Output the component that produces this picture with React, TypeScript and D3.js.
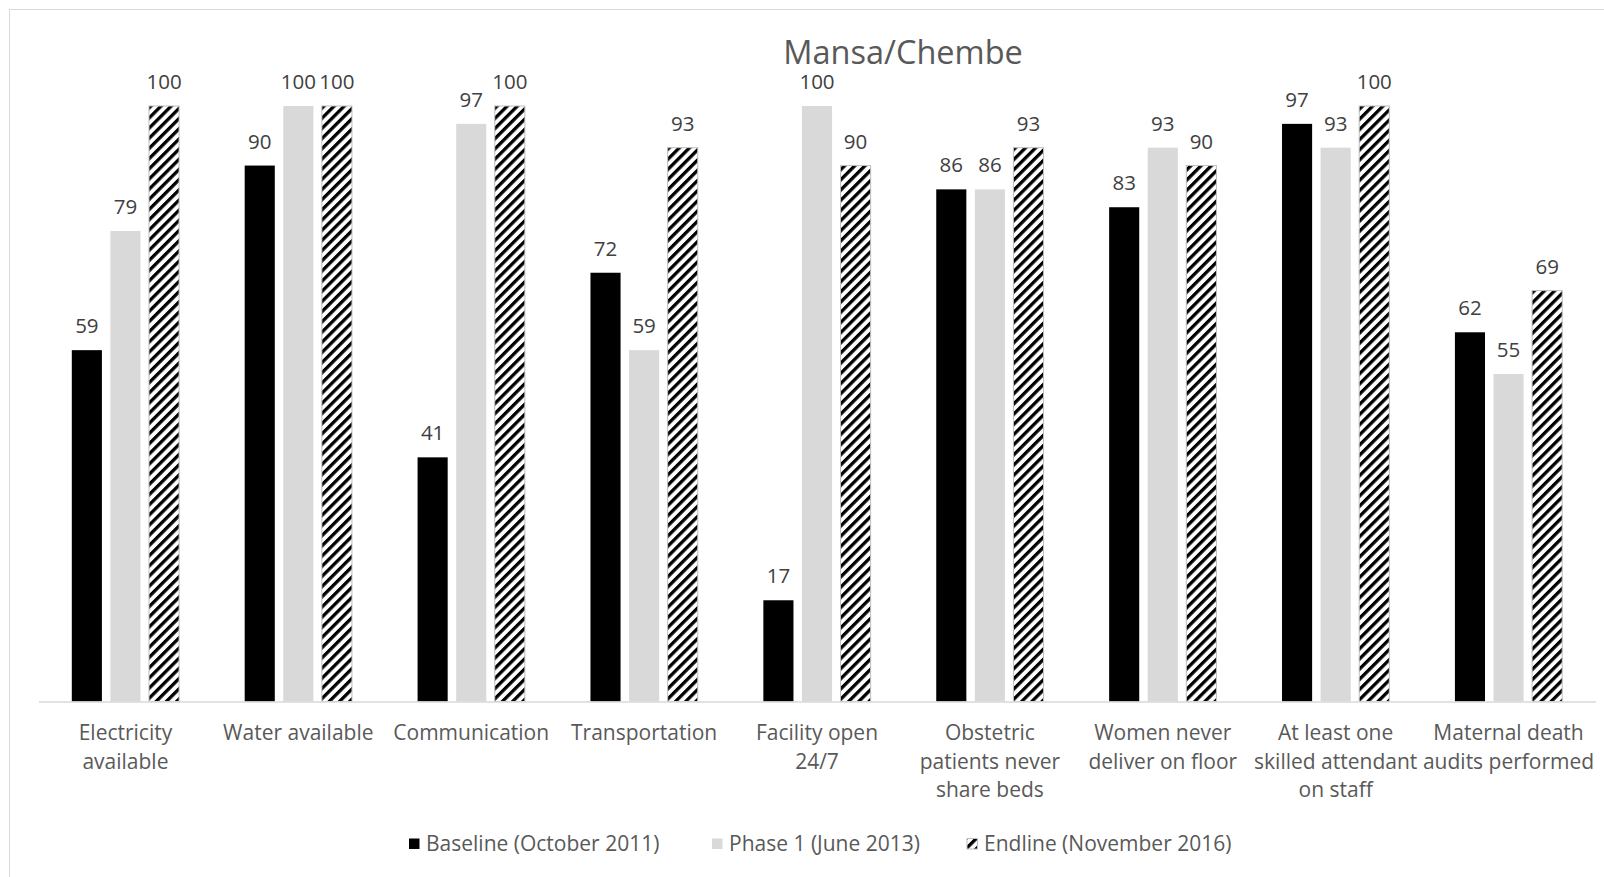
import React from 'react';
import * as d3 from 'd3';

// data (percent)
const categories = [
  'Electricity\navailable',
  'Water available',
  'Communication',
  'Transportation',
  'Facility open\n24/7',
  'Obstetric\npatients never\nshare beds',
  'Women never\ndeliver on floor',
  'At least one\nskilled attendant\non staff',
  'Maternal death\naudits performed',
];
const seriesNames = ['Baseline (October 2011)', 'Phase 1 (June 2013)', 'Endline (November 2016)'];
const baseline = [59, 90, 41, 72, 17, 86, 83, 97, 62];
const phase1 = [79, 100, 97, 59, 100, 86, 93, 93, 55];
const endline = [100, 100, 100, 93, 90, 93, 90, 100, 69];

const W = 1604;
const H = 877;
const FONT = '"Open Sans", "DejaVu Sans", sans-serif';
const fills = ['#000000', '#d9d9d9', 'url(#hatch)'];
const strokes = ['none', 'none', '#bfbfbf'];

export default function App() {
  const series = [baseline, phase1, endline];
  const x0 = d3.scaleBand<number>().domain(d3.range(categories.length)).range([39, 1595]).padding(0);
  const x1 = d3.scaleBand<number>().domain([0, 1, 2]).range([0, x0.bandwidth()])
    .paddingInner(0.22).paddingOuter(0.85);
  const y = d3.scaleLinear().domain([0, 100]).range([701.5, 106]);

  const legendX = [409, 712, 967];

  return (
    <div style={{ position: 'fixed', left: 0, top: 0 }}>
      <svg width={W} height={H} style={{ display: 'block', background: '#fff' }}>
        <defs>
          <pattern id="hatch" patternUnits="userSpaceOnUse" width={7.2} height={7.2} patternTransform="rotate(45)">
            <rect width={7.2} height={7.2} fill="#fff" />
            <rect width={3.3} height={7.2} fill="#000" />
          </pattern>
        </defs>
        <rect x={9.5} y={9.5} width={W + 20} height={H + 20} fill="none" stroke="#d9d9d9" />
        <text x={903} y={64} textAnchor="middle" fontFamily={FONT} fontSize={32.5} fill="#595959">Mansa/Chembe</text>

        {series.map((vals, s) => (
          <g key={s}>
            {vals.map((v, i) => {
              const bx = (x0(i) as number) + (x1(s) as number);
              const bw = x1.bandwidth();
              return (
                <g key={i}>
                  <rect x={bx} y={y(v)} width={bw} height={y(0) - y(v)} fill={fills[s]}
                    stroke={strokes[s]} strokeWidth={1} />
                  <text x={bx + bw / 2} y={y(v) - 17} textAnchor="middle" fontFamily={FONT}
                    fontSize={20.5} fill="#404040">{v}</text>
                </g>
              );
            })}
          </g>
        ))}

        <line x1={39} x2={1596} y1={702} y2={702} stroke="#d9d9d9" strokeWidth={1.5} />

        {categories.map((c, i) => (
          <text key={i} x={(x0(i) as number) + x0.bandwidth() / 2} y={740} textAnchor="middle"
            fontFamily={FONT} fontSize={21} fill="#595959">
            {c.split('\n').map((ln, k) => (
              <tspan key={k} x={(x0(i) as number) + x0.bandwidth() / 2} dy={k === 0 ? 0 : 28.6}>{ln}</tspan>
            ))}
          </text>
        ))}

        {seriesNames.map((n, s) => (
          <g key={n}>
            <rect x={legendX[s]} y={838.5} width={10.5} height={10.5} fill={fills[s]} stroke={strokes[s]} />
            <text x={legendX[s] + 17} y={851} fontFamily={FONT} fontSize={21} fill="#595959">{n}</text>
          </g>
        ))}
      </svg>
    </div>
  );
}
